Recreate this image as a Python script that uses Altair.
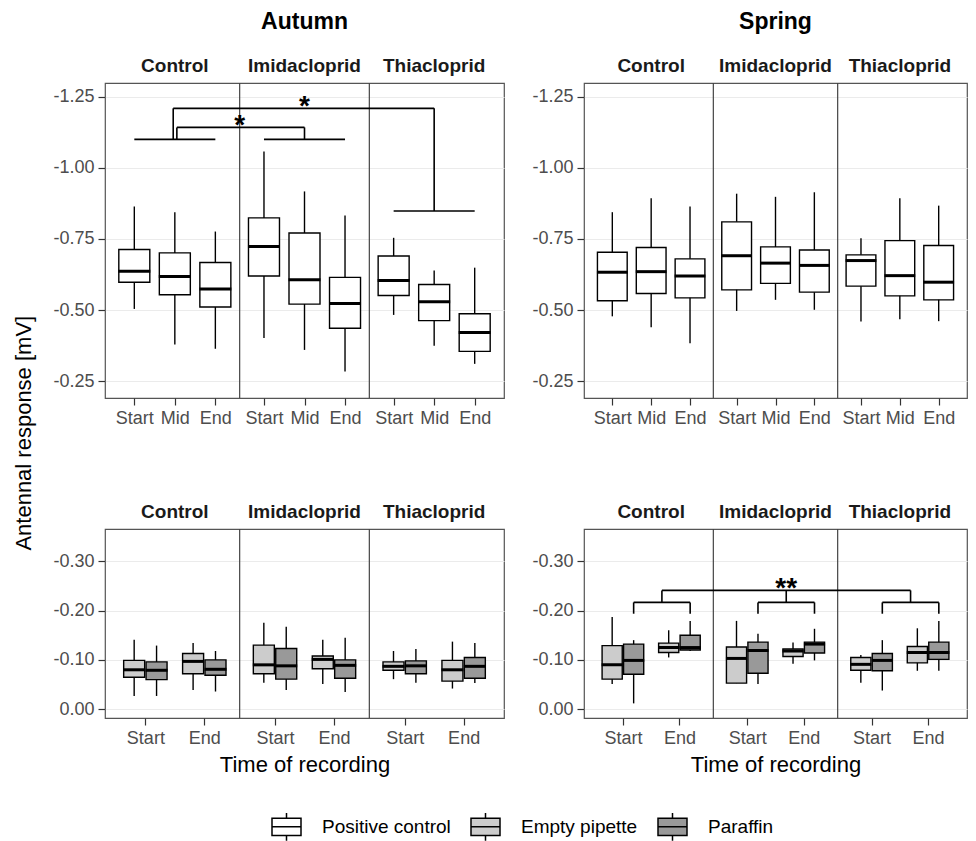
import json
import altair as alt
import pandas as pd

# ---------------- data ----------------
seasons = ["Autumn", "Spring"]
treatments = ["Control", "Imidacloprid", "Thiacloprid"]
times_top = ["Start", "Mid", "End"]
times_bottom = ["Start", "End"]
odors = ["Positive control", "Empty pipette", "Paraffin"]
odor_colors = ["#ffffff", "#cccccc", "#999999"]

# Positive control (top row), order: season > treatment > time
pc_whisker_top = [-0.864, -0.844, -0.776, -1.057, -0.917, -0.832, -0.754, -0.639, -0.649,
                  -0.844, -0.893, -0.864, -0.909, -0.898, -0.914, -0.752, -0.893, -0.867]
pc_box_top = [-0.713, -0.701, -0.667, -0.824, -0.771, -0.615, -0.690, -0.590, -0.487,
              -0.703, -0.720, -0.680, -0.810, -0.722, -0.711, -0.694, -0.744, -0.727]
pc_median = [-0.636, -0.618, -0.574, -0.723, -0.607, -0.523, -0.604, -0.529, -0.421,
             -0.633, -0.635, -0.620, -0.691, -0.665, -0.657, -0.674, -0.621, -0.598]
pc_box_bottom = [-0.598, -0.554, -0.511, -0.620, -0.521, -0.436, -0.551, -0.463, -0.355,
                 -0.533, -0.558, -0.543, -0.571, -0.594, -0.563, -0.584, -0.550, -0.536]
pc_whisker_bottom = [-0.504, -0.379, -0.364, -0.402, -0.360, -0.284, -0.483, -0.375, -0.311,
                     -0.478, -0.440, -0.383, -0.497, -0.536, -0.501, -0.460, -0.468, -0.461]

# Blanks (bottom row), order: season > treatment > time > odor (Empty pipette, Paraffin)
bl_whisker_top = [-0.141, -0.129, -0.134, -0.118, -0.175, -0.167, -0.141, -0.145, -0.118, -0.122, -0.137, -0.134,
                  -0.187, -0.140, -0.160, -0.179, -0.179, -0.153, -0.135, -0.163, -0.110, -0.140, -0.164, -0.179]
bl_box_top = [-0.099, -0.096, -0.113, -0.100, -0.130, -0.123, -0.108, -0.100, -0.096, -0.098, -0.099, -0.105,
              -0.129, -0.132, -0.134, -0.150, -0.126, -0.136, -0.122, -0.136, -0.105, -0.113, -0.127, -0.136]
bl_median = [-0.080, -0.079, -0.097, -0.081, -0.090, -0.088, -0.101, -0.089, -0.087, -0.088, -0.080, -0.087,
             -0.090, -0.099, -0.125, -0.125, -0.103, -0.119, -0.118, -0.132, -0.091, -0.099, -0.115, -0.115]
bl_box_bottom = [-0.065, -0.060, -0.072, -0.069, -0.072, -0.061, -0.082, -0.063, -0.079, -0.072, -0.057, -0.063,
                 -0.061, -0.071, -0.115, -0.120, -0.053, -0.073, -0.107, -0.114, -0.079, -0.078, -0.094, -0.101]
bl_whisker_bottom = [-0.027, -0.027, -0.039, -0.036, -0.054, -0.039, -0.051, -0.035, -0.061, -0.054, -0.042, -0.053,
                     -0.051, -0.012, -0.105, -0.118, -0.053, -0.051, -0.092, -0.099, -0.054, -0.038, -0.078, -0.078]

# significance annotations
autumn_group_levels = [-1.10, -1.10, -0.848]          # horizontal line over each treatment
autumn_brackets = [  # (from treatment, to treatment, level, label)
    ("Control", "Thiacloprid", -1.209, "*"),
    ("Control", "Imidacloprid", -1.142, "*"),
]
spring_sub_level = -0.2164
spring_sub_leg_end = -0.1935
spring_top_level = -0.2407
spring_top_label = "**"

# ---------------- geometry (x in scale units) ----------------
FW_TOP, FW_BOT = 32, 22        # width of one treatment block
OFF, STEP = 6, 10              # first category offset and category step
DODGE = 1.9
PANEL_W = {"Autumn": 399, "Spring": 383}
H_TOP, H_BOT = 315, 189
FONT = "Liberation Sans"

top_rows = []
i = 0
for s in seasons:
    for ti, t in enumerate(treatments):
        for ki, k in enumerate(times_top):
            top_rows.append(dict(season=s, treatment=t, time=k, odor=odors[0],
                                 x=ti * FW_TOP + OFF + ki * STEP,
                                 wt=pc_whisker_top[i], bt=pc_box_top[i], med=pc_median[i],
                                 bb=pc_box_bottom[i], wb=pc_whisker_bottom[i]))
            i += 1
top_df = pd.DataFrame(top_rows)

bot_rows = []
i = 0
for s in seasons:
    for ti, t in enumerate(treatments):
        for ki, k in enumerate(times_bottom):
            for oi, o in enumerate(odors[1:]):
                bot_rows.append(dict(season=s, treatment=t, time=k, odor=o,
                                     x=ti * FW_BOT + OFF + ki * STEP + (DODGE if oi else -DODGE),
                                     wt=bl_whisker_top[i], bt=bl_box_top[i], med=bl_median[i],
                                     bb=bl_box_bottom[i], wb=bl_whisker_bottom[i]))
                i += 1
bot_df = pd.DataFrame(bot_rows)

fill_scale = alt.Scale(domain=odors, range=odor_colors)
legend = alt.Legend(
    title=None, orient="none", direction="horizontal", legendX=166, legendY=728,
    symbolType="M-1,-0.6H1V0.6H-1Z M-1,0H1 M0,-0.6V-0.95 M0,0.6V0.95",
    symbolSize=841, symbolStrokeColor="black", symbolStrokeWidth=1.5,
    labelFontSize=19, labelFont=FONT, labelColor="black", labelOffset=20,
    columnPadding=17, symbolOpacity=1,
)

ylabel_expr = "(datum.value < 0 ? '-' : '') + format(abs(datum.value), '.2f')"


def panel(df, season, row):
    top = row == "top"
    fw = FW_TOP if top else FW_BOT
    times = times_top if top else times_bottom
    pw = PANEL_W[season]
    bw = (31 if top else 21) * pw / 399
    h = H_TOP if top else H_BOT
    ydom = [-1.298, -0.191] if top else [-0.365, 0.0176]
    yvals = [-1.25, -1.0, -0.75, -0.5, -0.25] if top else [-0.3, -0.2, -0.1, 0.0]
    xvals = [ti * fw + OFF + ki * STEP for ti in range(3) for ki in range(len(times))]
    xaxis = alt.Axis(values=xvals, labelExpr=f"{json.dumps(times)}[(datum.value % {fw} - {OFF}) / {STEP}]",
                     title=None if top else "Time of recording", grid=False)
    xs = alt.Scale(domain=[0, 3 * fw], nice=False, zero=False)
    yaxis = alt.Axis(values=yvals, labelExpr=ylabel_expr, title=None, grid=True)
    ys = alt.Scale(domain=ydom, reverse=True, nice=False, zero=False)

    def X(f):
        return alt.X(f"{f}:Q", scale=xs, axis=xaxis)

    def Y(f):
        return alt.Y(f"{f}:Q", scale=ys, axis=yaxis)

    d = df[df.season == season]
    base = alt.Chart(d)
    whisk = base.mark_rule(color="black", strokeWidth=1.4).encode(x=X("x"), y=Y("wt"), y2="wb:Q")
    box = base.mark_bar(size=bw, stroke="black", strokeWidth=1.4, opacity=1).encode(
        x=X("x"), y=Y("bt"), y2="bb:Q",
        fill=alt.Fill("odor:N", scale=fill_scale, legend=legend))
    med = base.mark_tick(orient="horizontal", size=bw + 1, thickness=3, color="black", opacity=1).encode(
        x=X("x"), y=Y("med"))

    sep_df = pd.DataFrame({"sx": [fw, 2 * fw]})
    sep = alt.Chart(sep_df).mark_rule(color="#444444", strokeWidth=1.2).encode(x=X("sx"))

    strip_df = pd.DataFrame({"treatment": treatments, "cx": [ti * fw + fw / 2 for ti in range(3)]})
    strips = alt.Chart(strip_df).mark_text(font=FONT, fontSize=19, fontWeight="bold", color="#1a1a1a",
                                           baseline="middle").encode(
        x=X("cx"), y=alt.value(-17), text="treatment:N")

    layers = [sep, whisk, box, med, strips]

    segs = []
    labels = []
    if top and season == "Autumn":
        cen = {t: ti * fw + fw / 2 for ti, t in enumerate(treatments)}
        lv = dict(zip(treatments, autumn_group_levels))
        for ti, t in enumerate(treatments):
            segs.append(dict(x=ti * fw + OFF, x2=ti * fw + OFF + (len(times) - 1) * STEP, y=lv[t], y2=lv[t]))
        shifts = [-0.4, 0.5]
        for (a, b, level, lab), sh in zip(autumn_brackets, shifts):
            xa = cen[a] + sh
            xb = cen[b]
            segs.append(dict(x=xa, x2=xa, y=lv[a], y2=level))
            segs.append(dict(x=xb, x2=xb, y=lv[b], y2=level))
            segs.append(dict(x=xa, x2=xb, y=level, y2=level))
            labels.append(dict(x=(cen[a] + cen[b]) / 2, y=level, label=lab))
    if (not top) and season == "Spring":
        centers = []
        for ti in range(3):
            xa = ti * fw + OFF + DODGE
            xb = ti * fw + OFF + STEP + DODGE
            c = (xa + xb) / 2
            centers.append(c)
            segs.append(dict(x=xa, x2=xa, y=spring_sub_leg_end, y2=spring_sub_level))
            segs.append(dict(x=xb, x2=xb, y=spring_sub_leg_end, y2=spring_sub_level))
            segs.append(dict(x=xa, x2=xb, y=spring_sub_level, y2=spring_sub_level))
            segs.append(dict(x=c, x2=c, y=spring_sub_level, y2=spring_top_level))
        segs.append(dict(x=centers[0], x2=centers[-1], y=spring_top_level, y2=spring_top_level))
        labels.append(dict(x=centers[1], y=spring_top_level, label=spring_top_label))
    if segs:
        seg_df = pd.DataFrame(segs)
        layers.append(alt.Chart(seg_df).mark_rule(color="black", strokeWidth=1.6).encode(
            x=X("x"), x2="x2:Q", y=Y("y"), y2="y2:Q"))
        lab_df = pd.DataFrame(labels)
        layers.append(alt.Chart(lab_df).mark_text(font=FONT, fontSize=28, fontWeight="bold", color="black",
                                                  baseline="alphabetic", dy=7).encode(
            x=X("x"), y=Y("y"), text="label:N"))

    props = dict(width=pw, height=h)
    if top:
        props["title"] = alt.Title(season, font=FONT, fontSize=23, fontWeight="bold", color="black",
                                   anchor="middle", offset=23)
    return alt.layer(*layers).properties(**props)


chart = alt.concat(
    panel(top_df, "Autumn", "top"), panel(top_df, "Spring", "top"),
    panel(bot_df, "Autumn", "bottom"), panel(bot_df, "Spring", "bottom"),
    columns=2, spacing={"row": 74, "column": 26},
    title=alt.Title("Antennal response [mV]", orient="left", anchor="middle", font=FONT, fontSize=22,
                    fontWeight="normal", color="black", offset=16, dx=-6),
).resolve_scale(fill="shared").resolve_legend(fill="shared").properties(
    padding={"left": 5, "top": 2, "right": 0, "bottom": 0}
).configure_view(stroke="#555555", strokeWidth=1.2).configure_axis(
    labelFont=FONT, labelFontSize=18, labelColor="#4d4d4d", labelPadding=4,
    tickColor="#333333", tickSize=7, tickWidth=1.2, domain=False,
    gridColor="#ebebeb", gridWidth=1.2,
    titleFont=FONT, titleFontSize=22, titleFontWeight="normal", titleColor="black", titlePadding=7,
)

chart.save("out.html", embed_options={"renderer": "svg", "actions": False})
